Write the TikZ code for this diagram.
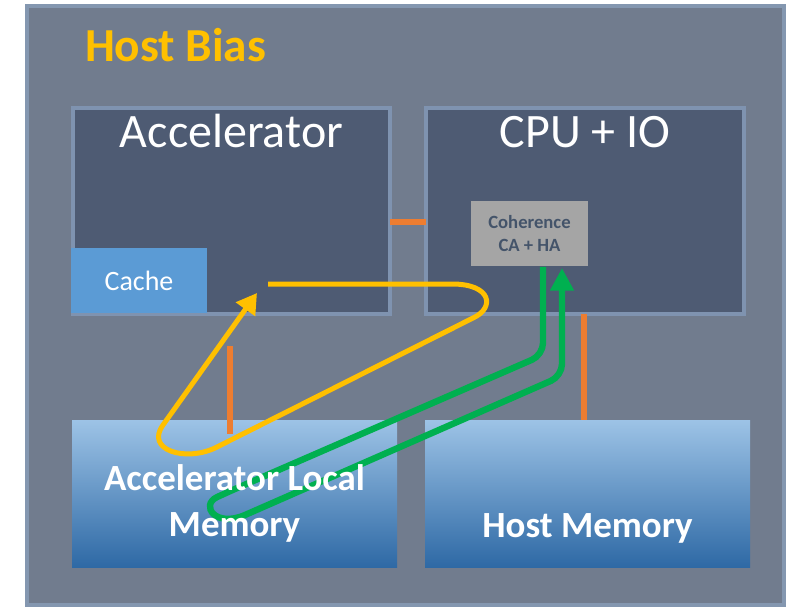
\documentclass[tikz,border=0pt]{standalone}
\usepackage{fontspec}
\setmainfont{Carlito}
\usepackage{tikz}
\usetikzlibrary{arrows.meta}
\usepackage{xcolor}
\definecolor{framefill}{HTML}{717C8E}
\definecolor{frameedge}{HTML}{8497B0}
\definecolor{chipfill}{HTML}{4E5B73}
\definecolor{chipedge}{HTML}{7F93B0}
\definecolor{cachefill}{HTML}{5B9BD5}
\definecolor{cohfill}{HTML}{A5A5A5}
\definecolor{cohtext}{HTML}{44546A}
\definecolor{memtop}{HTML}{9DC3E6}
\definecolor{membot}{HTML}{2E69A5}
\definecolor{linkorange}{HTML}{ED7D31}
\definecolor{flowyellow}{HTML}{FFC000}
\definecolor{flowgreen}{HTML}{00B050}

\begin{document}
\begin{tikzpicture}[x=0.75pt,y=-0.75pt,
	every node/.style={inner sep=0pt,outer sep=0pt},
	chip/.style={draw=chipedge,line width=3pt,fill=chipfill,minimum height=154.5pt},
	chiptitle/.style={anchor=base,text=white,font=\fontsize{36}{43}\selectfont},
	mem/.style={top color=memtop,bottom color=membot,minimum width=243.75pt,minimum height=110.25pt},
	memlabel/.style={text=white,align=center,font=\bfseries\fontsize{27.7}{34}\selectfont},
	link/.style={draw=linkorange,line width=4pt},
	yflow/.style={draw=flowyellow,line width=3.75pt,-{Triangle[length=15pt,width=17pt]}},
	gflow/.style={draw=flowgreen,line width=4.8pt,-{Triangle[length=17pt,width=17pt]}}]

	\useasboundingbox (0,0) rectangle (798,609);
	\fill[white] (0,0) rectangle (798,609);

	% frame and title
	\node[draw=frameedge,line width=3pt,fill=framefill,minimum width=567.75pt,minimum height=449.25pt] (host) at (405.5,305.5) {};
	\node[anchor=base west,text=flowyellow,font=\bfseries\fontsize{35.5}{42}\selectfont] (title) at (85,62) {Host Bias};

	% chips
	\node[chip,minimum width=237.75pt] (acc) at (231.5,211) {};
	\node[chiptitle] (acctitle) at ([yshift=-30pt]acc.north) {Accelerator};
	\node[chip,minimum width=238.5pt] (cpu) at (585,211) {};
	\node[chiptitle] (cputitle) at ([yshift=-30pt]cpu.north) {CPU + IO};

	\node[fill=cachefill,minimum width=102pt,minimum height=48.75pt,text=white,font=\fontsize{21}{25}\selectfont] (cache) at (139,280.5) {Cache};
	\node[fill=cohfill,minimum width=87.75pt,minimum height=48.75pt,text=cohtext,align=center,font=\bfseries\fontsize{14}{17}\selectfont] (coh) at (529.5,233.5) {Coherence\\CA + HA};

	% memories
	\node[mem] (accmem) at (234.5,493.5) {};
	\node[mem] (hostmem) at (587.5,493.5) {};

	% links
	\coordinate (acclink) at (230,346);
	\draw[link] ([yshift=-8.25pt]acc.east) -- ([yshift=-8.25pt]cpu.west);
	\draw[link] (acclink) -- ([yshift=-10.5pt]accmem.north -| acclink);
	\draw[link] (cpu.south -| 584,0) -- (hostmem.north -| 584,0);

	% flows
	\coordinate (ystart) at (268,284);
	\coordinate (yend) at (257,293);
	\coordinate (gstart) at (543,267);
	\coordinate (gend) at (562,268);
	\draw[yflow] (ystart) -- (452,284) .. controls (492,284) and (495,308) .. (473,318)
		-- (215,448) .. controls (185,462) and (145,450) .. (163,425) -- (yend);
	\draw[gflow,rounded corners=9pt] (gstart) -- (543,355) -- (228,492) [sharp corners]
		.. controls (200,505) and (215,528) .. (245,515) [rounded corners=9pt] -- (562,376) -- (gend);

	\node[memlabel] (accmemtext) at ([yshift=-7.5pt]accmem.center) {Accelerator Local\\Memory};
	\node[memlabel] (hostmemtext) at ([yshift=-26pt]hostmem.center) {Host Memory};

\end{tikzpicture}
\end{document}
